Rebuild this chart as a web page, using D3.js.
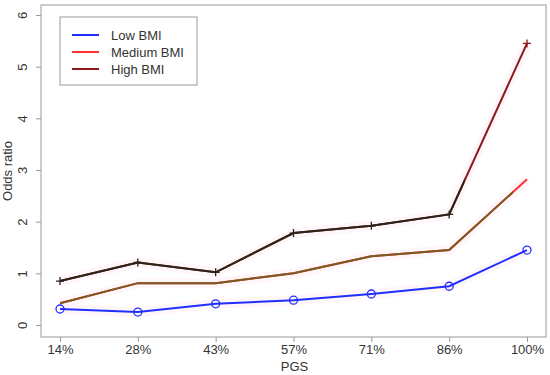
<!DOCTYPE html>
<html>
<head>
<style type="text/css">
body { margin: 0; background: #fff; }
text { font-family: "Liberation Sans", Arial, sans-serif; fill: #333; }
.axis path, .axis line { stroke: #999; }
</style>
</head>
<body>
<svg width="550" height="375"></svg>
<script src="https://d3js.org/d3.v7.min.js"></script>
<script>
// data
var categories = ["14%", "28%", "43%", "57%", "71%", "86%", "100%"];
var lowBMI = [0.31, 0.25, 0.41, 0.48, 0.60, 0.75, 1.45];
var mediumBMI = [0.42, 0.81, 0.81, 1.00, 1.33, 1.45, 2.82];
var highBMI = [0.85, 1.21, 1.02, 1.78, 1.92, 2.14, 5.45];
var yTicks = [0, 1, 2, 3, 4, 5, 6];

var series = [
  { name: "Low BMI", values: lowBMI, color: "#1f2fff", overlay: null, marker: "circle" },
  { name: "Medium BMI", values: mediumBMI, color: "#ff3030", overlay: "#7a5a22", overlayFrac: 0.82, marker: null },
  { name: "High BMI", values: highBMI, color: "#8b1a1a", overlay: "#2a2418", overlayFrac: 0.2, marker: "plus" }
];

var svg = d3.select("svg");
var box = { left: 41, right: 546, top: 5, bottom: 337 };

var x = d3.scalePoint().domain(categories).range([60, 527]);
var y = d3.scaleLinear().domain([0, 6]).range([325, 15]);

// frame
svg.append("rect")
  .attr("x", box.left).attr("y", box.top)
  .attr("width", box.right - box.left).attr("height", box.bottom - box.top)
  .attr("fill", "none").attr("stroke", "#999");

// y axis, labels turned like R does
var yAxis = svg.append("g").attr("class", "axis")
  .attr("transform", "translate(" + box.left + ",0)")
  .call(d3.axisLeft(y).tickValues(yTicks).tickFormat(d3.format("d")).tickSize(5));
yAxis.select(".domain").remove();
yAxis.selectAll(".tick text")
  .attr("transform", "rotate(-90)")
  .attr("x", 0).attr("y", -19)
  .attr("dy", "0.35em")
  .attr("text-anchor", "middle")
  .style("font-size", "13px");

// x axis
var xAxis = svg.append("g").attr("class", "axis")
  .attr("transform", "translate(0," + box.bottom + ")")
  .call(d3.axisBottom(x).tickSize(5).tickPadding(3));
xAxis.select(".domain").remove();
xAxis.selectAll("text").style("font-size", "13px");

svg.append("text")
  .attr("x", (box.left + box.right) / 2 + 1).attr("y", 371)
  .attr("text-anchor", "middle").style("font-size", "13px")
  .text("PGS");
svg.append("text")
  .attr("transform", "translate(12," + ((box.top + box.bottom) / 2) + ") rotate(-90)")
  .attr("text-anchor", "middle").style("font-size", "13px")
  .text("Odds ratio");

var line = d3.line()
  .x(function(d, i) { return x(categories[i]); })
  .y(function(d) { return y(d); });

// faint pink halo under lines
series.forEach(function(s) {
  svg.append("path").attr("d", line(s.values))
    .attr("fill", "none").attr("stroke", "#ffe6f0")
    .attr("stroke-width", 10).attr("stroke-opacity", 0.35);
});

var defs = svg.append("defs");
series.forEach(function(s, k) {
  svg.append("path").attr("d", line(s.values))
    .attr("fill", "none").attr("stroke", s.color).attr("stroke-width", 2);
  if (s.overlay) {
    var n = categories.length;
    var cx = x(categories[n - 2]) + s.overlayFrac * (x(categories[n - 1]) - x(categories[n - 2]));
    defs.append("clipPath").attr("id", "clip" + k)
      .append("rect").attr("x", 0).attr("y", 0).attr("width", cx).attr("height", 375);
    svg.append("path").attr("d", line(s.values))
      .attr("clip-path", "url(#clip" + k + ")")
      .attr("fill", "none").attr("stroke", s.overlay).attr("stroke-width", 2);
  }
  if (s.marker === "circle") {
    svg.selectAll(".m" + k).data(s.values).enter().append("circle")
      .attr("cx", function(d, i) { return x(categories[i]); })
      .attr("cy", function(d) { return y(d); })
      .attr("r", 4).attr("fill", "none")
      .attr("stroke", s.color).attr("stroke-width", 1.3);
  } else if (s.marker === "plus") {
    svg.selectAll(".m" + k).data(s.values).enter().append("path")
      .attr("d", function(d, i) {
        var px = x(categories[i]), py = y(d);
        return "M" + (px - 4) + "," + py + "H" + (px + 4) + "M" + px + "," + (py - 4) + "V" + (py + 4);
      })
      .attr("stroke", function(d, i) { return i === categories.length - 1 ? s.color : s.overlay; })
      .attr("stroke-width", 1.3);
  }
});

// legend
var lg = svg.append("g");
lg.append("rect").attr("x", 60).attr("y", 17).attr("width", 137).attr("height", 68)
  .attr("fill", "#fff").attr("stroke", "#999");
series.forEach(function(s, k) {
  var ly = 35 + k * 17;
  lg.append("line").attr("x1", 72).attr("x2", 99).attr("y1", ly).attr("y2", ly)
    .attr("stroke", s.color).attr("stroke-width", 2);
  lg.append("text").attr("x", 111).attr("y", ly).attr("dy", "0.35em")
    .style("font-size", "13px").text(s.name);
});
</script>
</body>
</html>
